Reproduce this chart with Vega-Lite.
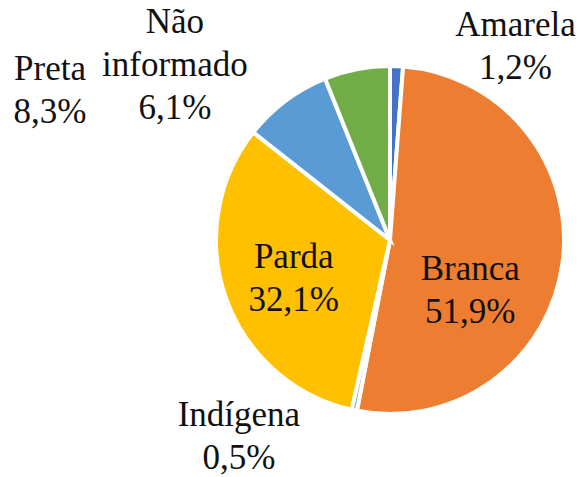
{
  "$schema": "https://vega.github.io/schema/vega-lite/v6.json",
  "autosize": {"type": "none"},
  "width": 350,
  "height": 350,
  "padding": {"left": 215, "top": 65, "right": 15, "bottom": 62},
  "background": "white",
  "view": {"stroke": null},
  "data": {
    "values": [
      {"cat": "Amarela", "v": 1.2, "i": 1},
      {"cat": "Branca", "v": 51.9, "i": 2},
      {"cat": "Indígena", "v": 0.5, "i": 3},
      {"cat": "Parda", "v": 32.1, "i": 4},
      {"cat": "Preta", "v": 8.3, "i": 5},
      {"cat": "Não informado", "v": 6.1, "i": 6}
    ]
  },
  "transform": [
    {"calculate": "replace(datum.cat, ' ', '\\n') + '\\n' + replace(format(datum.v, '.1f'), '.', ',') + '%'", "as": "label"}
  ],
  "encoding": {
    "theta": {"field": "v", "type": "quantitative", "stack": true},
    "order": {"field": "i", "type": "quantitative", "sort": "ascending"}
  },
  "layer": [
    {
      "mark": {"type": "arc", "outerRadius": 174, "stroke": "white", "strokeWidth": 4},
      "encoding": {
        "color": {
          "field": "cat", "type": "nominal", "legend": null,
          "scale": {
            "domain": ["Amarela", "Branca", "Indígena", "Parda", "Preta", "Não informado"],
            "range": ["#4472C4", "#ED7D31", "#A5A5A5", "#FFC000", "#5B9BD5", "#70AD47"]
          }
        }
      }
    },
    {
      "mark": {"type": "text", "radius": 200, "dx": 118, "dy": -15, "font": "Liberation Serif", "fontSize": 35, "lineHeight": 43, "lineBreak": "\n", "align": "center", "baseline": "middle", "color": "#111111"},
      "encoding": {"detail": {"field": "cat"}, "text": {"condition": {"test": "datum.cat === 'Amarela'", "field": "label"}, "value": ""}}
    },
    {
      "mark": {"type": "text", "radius": 80, "dx": 1, "dy": 18, "font": "Liberation Serif", "fontSize": 35, "lineHeight": 43, "lineBreak": "\n", "align": "center", "baseline": "middle", "color": "#111111"},
      "encoding": {"detail": {"field": "cat"}, "text": {"condition": {"test": "datum.cat === 'Branca'", "field": "label"}, "value": ""}}
    },
    {
      "mark": {"type": "text", "radius": 200, "dx": -110, "dy": -21, "font": "Liberation Serif", "fontSize": 35, "lineHeight": 43, "lineBreak": "\n", "align": "center", "baseline": "middle", "color": "#111111"},
      "encoding": {"detail": {"field": "cat"}, "text": {"condition": {"test": "datum.cat === 'Indígena'", "field": "label"}, "value": ""}}
    },
    {
      "mark": {"type": "text", "radius": 100, "dx": -2, "dy": -16, "font": "Liberation Serif", "fontSize": 35, "lineHeight": 43, "lineBreak": "\n", "align": "center", "baseline": "middle", "color": "#111111"},
      "encoding": {"detail": {"field": "cat"}, "text": {"condition": {"test": "datum.cat === 'Parda'", "field": "label"}, "value": ""}}
    },
    {
      "mark": {"type": "text", "radius": 250, "dx": -190, "dy": 29, "font": "Liberation Serif", "fontSize": 35, "lineHeight": 43, "lineBreak": "\n", "align": "center", "baseline": "middle", "color": "#111111"},
      "encoding": {"detail": {"field": "cat"}, "text": {"condition": {"test": "datum.cat === 'Preta'", "field": "label"}, "value": ""}}
    },
    {
      "mark": {"type": "text", "radius": 200, "dx": -177, "dy": -22, "font": "Liberation Serif", "fontSize": 35, "lineHeight": 43, "lineBreak": "\n", "align": "center", "baseline": "middle", "color": "#111111"},
      "encoding": {"detail": {"field": "cat"}, "text": {"condition": {"test": "datum.cat === 'Não informado'", "field": "label"}, "value": ""}}
    }
  ]
}
